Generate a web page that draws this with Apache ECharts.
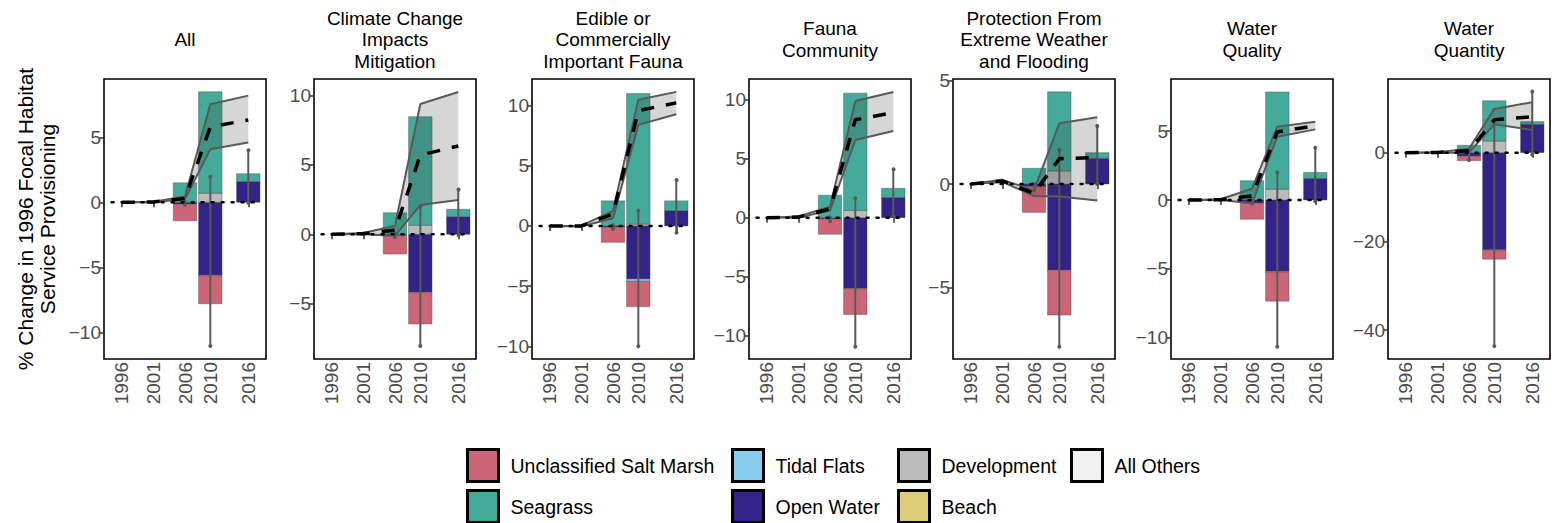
<!DOCTYPE html>
<html>
<head>
<meta charset="utf-8">
<script src="https://cdn.jsdelivr.net/npm/echarts@6/dist/echarts.min.js"></script>
<style>
  html, body { margin: 0; padding: 0; background: #fff; }
  #chart { width: 1564px; height: 523px; }
</style>
</head>
<body>
<div id="chart"></div>
<script>
// facets
const panelTitles = ['All', 'Climate Change\nImpacts\nMitigation', 'Edible or\nCommercially\nImportant Fauna',
  'Fauna\nCommunity', 'Protection From\nExtreme Weather\nand Flooding', 'Water\nQuality', 'Water\nQuantity'];

const lineYears = [1996, 2001, 2006, 2010, 2016];
const barYears = [2006, 2010, 2016];
const xTickYears = [1996, 2001, 2006, 2010, 2016];
const yTickValues = [
  [-10, -5, 0, 5], [-5, 0, 5, 10], [-10, -5, 0, 5, 10], [-10, -5, 0, 5, 10],
  [-5, 0, 5], [-10, -5, 0, 5], [-40, -20, 0]
];
const yLimits = [
  [-12.05, 9.48], [-8.97, 11.17], [-11.05, 12.2], [-11.97, 11.75],
  [-8.45, 5.07], [-11.55, 8.79], [-46.5, 16.6]
];

// stacked habitat contributions at 2006 / 2010 / 2016 (one row per facet)
const openWater = [
  [-0.15, -5.6, 1.6], [-0.1, -4.15, 1.27], [-0.1, -4.4, 1.27], [-0.1, -5.97, 1.72],
  [-0.13, -4.15, 1.24], [-0.22, -5.18, 1.57], [-0.75, -21.9, 6.4]
];
const development = [
  [0, 0.7, 0], [0, 0.65, 0], [0, 0.15, 0], [0, 0.62, 0],
  [0, 0.63, 0], [0, 0.78, 0], [0, 2.6, 0]
];
const tidalFlats = [
  [0, -0.05, 0], [0, -0.05, 0], [0, -0.2, 0], [0, -0.05, 0],
  [0, 0, 0], [0, -0.05, 0], [0, -0.1, 0]
];
const seagrass = [
  [1.5, 7.8, 0.6], [1.55, 7.81, 0.53], [2.08, 10.85, 0.81], [1.9, 9.93, 0.77],
  [0.76, 3.82, 0.27], [1.4, 7.07, 0.43], [1.65, 9.1, 0.6]
];
const saltMarsh = [
  [-1.27, -2.15, 0], [-1.32, -2.25, 0], [-1.26, -2.1, 0], [-1.3, -2.18, 0],
  [-1.24, -2.18, 0], [-1.18, -2.12, 0], [-1.05, -2.0, 0]
];

// modelled trajectory band and mean
const upperLine = [
  [0, 0.05, 0.45, 7.54, 8.2], [0, 0.1, 0.62, 9.37, 10.23], [0, 0.02, 1.25, 10.47, 11.13],
  [0, 0.1, 0.93, 9.89, 10.65], [0, 0.2, -0.3, 2.93, 3.22], [0, 0.05, 0.82, 5.33, 5.69],
  [0, 0.1, 0.9, 9.86, 11.37]
];
const lowerLine = [
  [0, 0, 0.25, 4.07, 4.6], [0, 0, -0.1, 2.1, 2.47], [0, -0.05, 0.64, 8.39, 9.28],
  [0, 0.02, 0.6, 6.58, 7.35], [0, 0.1, -0.58, -0.6, -0.8], [0, 0, -0.24, 4.6, 5.13],
  [0, 0, 0, 6.4, 5.12]
];
const meanLine = [
  [0, 0.02, 0.3, 5.8, 6.33], [0, 0.05, 0.3, 5.7, 6.35], [0, 0, 1.0, 9.58, 10.22],
  [0, 0.05, 0.75, 8.3, 8.9], [0, 0.15, -0.45, 1.22, 1.28], [0, 0.02, 0.3, 4.95, 5.4],
  [0, 0.05, 0.45, 7.4, 8.1]
];

// error bars (low, high) at 2006 / 2010 / 2016
const errLow = [
  [-0.2, -11.05, 0], [-0.2, -8.03, 0], [-0.25, -10.0, -0.47], [-0.3, -10.93, 0.2],
  [-0.3, -7.86, 0], [-0.25, -10.66, -0.1], [-1.65, -43.6, -0.5]
];
const errHigh = [
  [0.05, 1.97, 4.07], [0.05, 2.0, 3.3], [0.05, 1.27, 3.9], [0.05, 1.64, 4.19],
  [0.0, 1.64, 2.8], [0.05, 2.0, 3.8], [0.6, 7.3, 13.8]
];

const zeroSpan = [1994.4, 2017.8];

const legendCols = [
  ['Unclassified Salt Marsh', 'Seagrass'],
  ['Tidal Flats', 'Open Water'],
  ['Development', 'Beach'],
  ['All Others']
];

const FONT = 'Liberation Sans, Arial, sans-serif';
const gridLeft = [104, 314, 532, 749, 953, 1171, 1388];
const gridW = 162, gridTop = 79, gridH = 280;
const xMin = 1993.2, xMax = 2018.8;
const barHalf = 1.85; // half bar width, in years

// stacking order: positives go up, negatives go down, in this order
const habitats = [
  { name: 'Open Water', color: '#332288', vals: openWater },
  { name: 'Development', color: '#BBBBBB', vals: development },
  { name: 'Tidal Flats', color: '#88CCEE', vals: tidalFlats },
  { name: 'Seagrass', color: '#44AA99', vals: seagrass },
  { name: 'Unclassified Salt Marsh', color: '#CC6677', vals: saltMarsh }
];

function stackSegments(i) {
  const segs = habitats.map(() => []);
  barYears.forEach((yr, j) => {
    let pos = 0, neg = 0;
    habitats.forEach((h, k) => {
      const v = h.vals[i][j];
      if (v > 0) { segs[k].push([yr, pos, pos + v]); pos += v; }
      else if (v < 0) { segs[k].push([yr, neg, neg + v]); neg += v; }
    });
  });
  return segs;
}

const fmtYear = v => String(v);
const fmtNum = v => (v < 0 ? '\u2212' + Math.abs(v) : String(v));

let chart = echarts.init(document.getElementById('chart'), null, { renderer: 'svg' });

let grids = [], xAxes = [], yAxes = [], titles = [], series = [];

panelTitles.forEach((t, i) => {
  grids.push({ left: gridLeft[i], top: gridTop, width: gridW, height: gridH, show: true,
    borderColor: '#000', borderWidth: 1.6, containLabel: false });
  titles.push({ text: t, left: gridLeft[i] + gridW / 2, top: 39.5, textAlign: 'center',
    textVerticalAlign: 'middle', padding: 0,
    textStyle: { fontFamily: FONT, fontSize: 19, fontWeight: 'normal', color: '#000', lineHeight: 21.5 } });
  xAxes.push({
    gridIndex: i, type: 'value', min: xMin, max: xMax,
    axisLine: { show: false }, splitLine: { show: false },
    axisTick: { show: true, customValues: xTickYears, length: 5, lineStyle: { color: '#333', width: 1.5 } },
    axisLabel: { customValues: xTickYears, rotate: 90, margin: 3, fontSize: 19, color: '#4d4d4d',
      fontFamily: FONT, formatter: fmtYear }
  });
  yAxes.push({
    gridIndex: i, type: 'value', min: yLimits[i][0], max: yLimits[i][1],
    axisLine: { show: false }, splitLine: { show: false },
    axisTick: { show: true, customValues: yTickValues[i], length: 5, lineStyle: { color: '#333', width: 1.5 } },
    axisLabel: { customValues: yTickValues[i], margin: 3, fontSize: 19, color: '#4d4d4d', fontFamily: FONT,
      formatter: fmtNum },
    name: i === 0 ? '% Change in 1996 Focal Habitat\nService Provisioning' : '',
    nameLocation: 'middle', nameRotate: 90, nameGap: 46,
    nameTextStyle: { fontFamily: FONT, fontSize: 21, color: '#000', lineHeight: 22 }
  });

  // stacked bars
  const segs = stackSegments(i);
  habitats.forEach((h, k) => {
    series.push({
      type: 'custom', name: h.name, xAxisIndex: i, yAxisIndex: i, z: 2, silent: true,
      itemStyle: { color: h.color },
      data: segs[k],
      encode: { x: 0, y: [1, 2] },
      renderItem: (params, api) => {
        const x = api.value(0);
        const a = api.coord([x - barHalf, api.value(1)]);
        const b = api.coord([x + barHalf, api.value(2)]);
        return { type: 'rect',
          shape: { x: a[0], y: Math.min(a[1], b[1]), width: b[0] - a[0], height: Math.abs(b[1] - a[1]) },
          style: { fill: h.color, stroke: 'rgba(70,70,70,0.7)', lineWidth: 0.6 } };
      }
    });
  });

  // error bars
  series.push({
    type: 'custom', xAxisIndex: i, yAxisIndex: i, z: 3, silent: true,
    data: barYears.map((y, j) => [y, errLow[i][j], errHigh[i][j]]),
    encode: { x: 0, y: [1, 2] },
    renderItem: (params, api) => {
      const lo = api.coord([api.value(0), api.value(1)]);
      const hi = api.coord([api.value(0), api.value(2)]);
      const c = '#5a5a5a';
      return { type: 'group', children: [
        { type: 'line', shape: { x1: lo[0], y1: lo[1], x2: hi[0], y2: hi[1] }, style: { stroke: c, lineWidth: 2 } },
        { type: 'circle', shape: { cx: lo[0], cy: lo[1], r: 2 }, style: { fill: c } },
        { type: 'circle', shape: { cx: hi[0], cy: hi[1], r: 2 }, style: { fill: c } }
      ] };
    }
  });

  // ribbon
  series.push({
    type: 'custom', xAxisIndex: i, yAxisIndex: i, z: 4, silent: true,
    data: lineYears.map((y, k) => [y, lowerLine[i][k], upperLine[i][k]]),
    encode: { x: 0, y: [1, 2] },
    renderItem: (params, api) => {
      if (params.dataIndex !== 0) return null;
      const pts = [];
      lineYears.forEach((y, k) => pts.push(api.coord([y, upperLine[i][k]])));
      for (let k = lineYears.length - 1; k >= 0; k--) pts.push(api.coord([lineYears[k], lowerLine[i][k]]));
      return { type: 'polygon', shape: { points: pts }, style: { fill: 'rgba(51,51,51,0.2)' } };
    }
  });

  [upperLine, lowerLine].forEach(arr => {
    series.push({
      type: 'line', xAxisIndex: i, yAxisIndex: i, z: 5, silent: true, symbol: 'none',
      data: lineYears.map((y, k) => [y, arr[i][k]]),
      lineStyle: { color: '#595959', width: 2 }
    });
  });

  series.push({
    type: 'line', xAxisIndex: i, yAxisIndex: i, z: 6, silent: true, symbol: 'none',
    data: zeroSpan.map(x => [x, 0]),
    lineStyle: { color: '#000', width: 2.5, type: [2, 8], cap: 'round' }
  });

  series.push({
    type: 'line', xAxisIndex: i, yAxisIndex: i, z: 7, silent: true, symbol: 'none',
    data: lineYears.map((y, k) => [y, meanLine[i][k]]),
    lineStyle: { color: '#000', width: 3.5, type: [13, 12] }
  });
});

// legend-only categories
['Beach', 'All Others'].forEach((n, k) => {
  series.push({ type: 'custom', name: n, xAxisIndex: 0, yAxisIndex: 0, data: [],
    itemStyle: { color: ['#DDCC77', '#F2F2F2'][k] }, renderItem: () => null });
});

const legendLeft = [466, 731, 897, 1070];
const legends = legendCols.map((names, c) => ({
  data: names, orient: 'vertical', left: legendLeft[c], top: 448, height: 100, padding: 0,
  itemWidth: 31, itemHeight: 32, itemGap: 6, icon: 'rect', selectedMode: false,
  itemStyle: { borderColor: '#000', borderWidth: 3 },
  textStyle: { fontFamily: FONT, fontSize: 19.5, color: '#000', padding: [0, 0, 0, 7] }
}));

let option = {
  animation: false,
  backgroundColor: '#fff',
  textStyle: { fontFamily: FONT },
  title: titles,
  legend: legends,
  grid: grids,
  xAxis: xAxes,
  yAxis: yAxes,
  series: series
};
chart.setOption(option);
</script>
</body>
</html>
